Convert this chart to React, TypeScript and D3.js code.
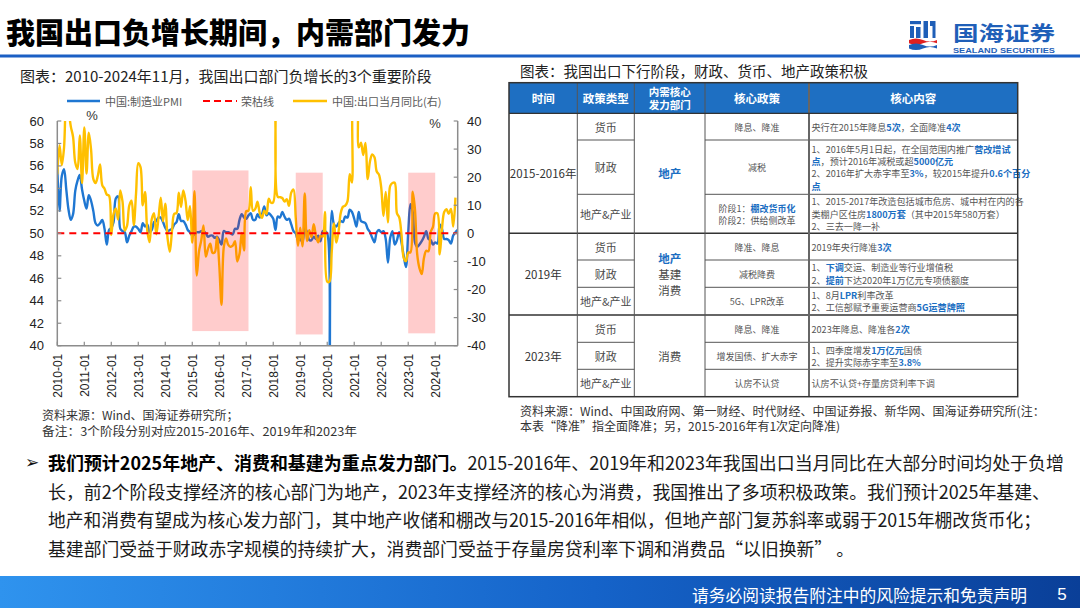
import React from 'react';
import * as d3 from 'd3';

// ---------------- DATA ----------------
const YEARS = ['2010','2011','2012','2013','2014','2015','2016','2017','2018','2019','2020','2021','2022','2023','2024'];
const MONTH_NUMS = ['01','02','03','04','05','06','07','08','09','10','11','12'];
const months = YEARS.flatMap(y => MONTH_NUMS.map(m => `${y}-${m}`)).slice(0, 179); // 2010-01 .. 2024-11
const xTickLabels = YEARS.map(y => `${y}-01`);
const leftTicks = [40, 42, 44, 46, 48, 50, 52, 54, 56, 58, 60];
const rightTicks = [-40, -30, -20, -10, 0, 10, 20, 30, 40];

// 中国:制造业PMI (2010-01 .. 2024-11)
const pmi = [
  55.8, 52.0, 55.1, 55.7, 53.9, 52.1, 51.2, 51.7, 53.8, 54.7, 55.2, 53.9,
  52.9, 52.2, 53.4, 52.9, 52.0, 50.9, 50.7, 50.9, 51.2, 50.4, 49.0, 50.3,
  50.5, 51.0, 53.1, 53.3, 50.4, 50.2, 50.1, 49.2, 49.8, 50.2, 50.6, 50.6,
  50.4, 50.1, 50.9, 50.6, 50.8, 50.1, 50.3, 51.0, 51.1, 51.4, 51.4, 51.0,
  50.5, 50.2, 50.3, 50.4, 50.8, 51.0, 51.7, 51.1, 51.1, 50.8, 50.3, 50.1,
  49.8, 49.9, 50.1, 50.1, 50.2, 50.2, 50.0, 49.7, 49.8, 49.8, 49.6, 49.7,
  49.4, 49.0, 50.2, 50.1, 50.1, 50.0, 49.9, 50.4, 50.4, 51.2, 51.7, 51.4,
  51.3, 51.6, 51.8, 51.2, 51.2, 51.7, 51.4, 51.7, 52.4, 51.6, 51.8, 51.6,
  51.3, 50.3, 51.5, 51.4, 51.9, 51.5, 51.2, 51.3, 50.8, 50.2, 50.0, 49.4,
  49.5, 49.2, 50.5, 50.1, 49.4, 49.4, 49.7, 49.5, 49.8, 49.3, 50.2, 50.2,
  50.0, 35.7, 52.0, 50.8, 50.6, 50.9, 51.1, 51.0, 51.5, 51.4, 52.1, 51.9,
  51.3, 50.6, 51.9, 51.1, 51.0, 50.9, 50.4, 50.1, 49.6, 49.2, 50.1, 50.3,
  50.1, 50.2, 49.5, 47.4, 49.6, 50.2, 49.0, 49.4, 50.1, 49.2, 48.0, 47.0,
  50.1, 52.6, 51.9, 49.2, 48.8, 49.0, 49.3, 49.7, 50.2, 49.5, 49.4, 49.0,
  49.2, 49.1, 50.8, 50.4, 49.5, 49.5, 49.4, 49.1, 49.8, 50.1, 50.3,
];

// 中国:出口当月同比 (2010-01 .. 2024-10)
const exportYoY = [
  21.0, 31.4, 24.3, 30.5, 48.5, 43.9, 38.1, 34.4, 25.1, 22.9, 34.9, 17.9,
  37.7, 21.3, 35.8, 29.9, 19.4, 17.9, 20.4, 24.5, 17.1, 15.9, 13.8, 13.4,
  -0.5, 6.9, 8.9, 4.9, 15.3, 11.3, 1.0, 2.7, 9.9, 11.6, 2.9, 14.1,
  25.0, 23.6, 10.0, 14.7, 1.0, -3.1, 5.1, 7.2, -0.3, 5.6, 12.7, 4.3,
  10.6, -1.6, -6.6, 0.9, 7.0, 7.2, 14.5, 9.4, 15.3, 11.6, 4.7, 9.7,
  -3.3, 15.0, -15.0, -6.4, -2.5, 2.8, -8.3, -5.5, -3.7, -6.9, -6.8, -1.4,
  -11.2, -25.4, -5.0, -1.8, -4.1, -4.8, -4.4, -2.8, -10.0, -7.3, 0.1, -6.1,
  7.9, 8.0, 16.4, 8.0, 8.7, 11.3, 7.2, 5.5, 8.1, 6.9, 12.3, 10.9,
  11.1, 44.5, 13.0, 12.9, 12.6, 11.3, 12.2, 9.8, 14.5, 15.6, 5.4, -4.4,
  2.0, -4.6, 14.2, -2.7, 1.1, -1.3, 3.3, -1.0, -3.2, -0.9, -1.1, 7.6,
  -17.2, -17.2, -6.6, 3.5, -3.3, 0.5, 7.2, 9.5, 9.9, 11.4, 21.1, 18.1,
  60.6, 60.6, 30.6, 32.3, 27.9, 32.2, 19.3, 25.6, 28.1, 27.1, 22.0, 20.9,
  16.3, 6.2, 14.7, 3.9, 16.9, 17.9, 18.0, 7.1, 5.7, -0.3, -8.7, -9.9,
  -6.8, -6.8, 14.8, 8.5, -7.5, -12.4, -14.5, -8.8, -6.2, -6.4, 0.5, 2.3,
  7.1, 7.1, -7.5, 1.5, 7.6, 8.6, 7.0, 8.7, 2.4, 12.7,
];

const boomBustLine = 50;

// 3个重要阶段 (shaded), vertical extent in left-axis units
const phaseStarts = ['2015-01', '2018-11', '2023-01'];
const phaseEnds = ['2017-02', '2019-11', '2024-01'];
const phaseTops = [55.6, 55.4, 55.4];
const phaseBottoms = [41.3, 41.0, 41.1];

const legendLabels = ['中国:制造业PMI', '荣枯线', '中国:出口当月同比(右)'];

// ---------------- TABLE DATA ----------------
const tableHeaders = [['时间'], ['政策类型'], ['内需核心', '发力部门'], ['核心政策'], ['核心内容']];
const tablePeriods = ['2015-2016年', '2019年', '2023年'];
const tableSectors = [['**地产**'], ['**地产**', '基建', '消费'], ['消费']];
const tableTypes = ['货币', '财政', '地产&产业'];
const tablePolicies = [
  [['降息、降准'], ['减税'], ['阶段1：**棚改货币化**', '阶段2：供给侧改革']],
  [['降准、降息'], ['减税降费'], ['5G、LPR改革']],
  [['降息、降准'], ['增发国债、扩大赤字'], ['认房不认贷']],
];
const tableContents = [
  [
    ['央行在2015年降息**5次**，全面降准**4次**'],
    ['1、2016年5月1日起，在全国范围内推广**营改增试**', '**点**，预计2016年减税或超**5000亿元**', '2、2016年扩大赤字率至**3%**，较2015年提升**0.6个百分**', '**点**'],
    ['1、2015-2017年改造包括城市危房、城中村在内的各', '类棚户区住房**1800万套**（其中2015年580万套）', '2、三去一降一补'],
  ],
  [
    ['2019年央行降准**3次**'],
    ['1、**下调**交运、制造业等行业增值税', '2、**提前**下达2020年1万亿元专项债额度'],
    ['1、8月**LPR**利率改革', '2、工信部赋予重要运营商**5G运营牌照**'],
  ],
  [
    ['2023年降息、降准各**2次**'],
    ['1、四季度增发**1万亿元**国债', '2、提升实际赤字率至**3.8%**'],
    ['认房不认贷+存量房贷利率下调'],
  ],
];

const paragraphLines = [
  ['**我们预计2025年地产、消费和基建为重点发力部门。**2015-2016年、2019年和2023年我国出口当月同比在大部分时间均处于负增'],
  ['长，前2个阶段支撑经济的核心部门为地产，2023年支撑经济的核心为消费，我国推出了多项积极政策。我们预计2025年基建、'],
  ['地产和消费有望成为核心发力部门，其中地产收储和棚改与2015-2016年相似，但地产部门复苏斜率或弱于2015年棚改货币化；'],
  ['基建部门受益于财政赤字规模的持续扩大，消费部门受益于存量房贷利率下调和消费品“以旧换新” 。'],
];

// ---------------- STYLE ----------------
const SANS = '"Noto Sans CJK SC", "Noto Sans", "Liberation Sans", sans-serif';
const ARIAL = '"Liberation Sans", Arial, sans-serif';
const BLUE = '#1f77d2';
const GOLD = '#ffc000';
const HL = '#1b6ec2';
const TXT = '#4a4a4a';

function Rich({ x, y, text, size, anchor = 'start', color = TXT, hl = HL, boldHl = true, textLength }: any) {
  const parts = text.split('**');
  return (
    <text x={x} y={y} fontSize={size} fontFamily={SANS} textAnchor={anchor} dominantBaseline="central"
      {...(textLength ? { textLength, lengthAdjust: 'spacingAndGlyphs' } : {})}>
      {parts.map((p: string, i: number) => (
        <tspan key={i} fill={i % 2 ? hl : color} fontWeight={i % 2 && boldHl ? 700 : 400}>{p}</tspan>
      ))}
    </text>
  );
}

function Chart() {
  const L = 57.3, R = 457.7, T = 121, B = 345.7;
  const x = d3.scalePoint<string>().domain(months).range([L, R]);
  const yL = d3.scaleLinear().domain([40, 60]).range([B, T]);
  const yR = d3.scaleLinear().domain([-40, 40]).range([B, T]);
  const curve = d3.curveCatmullRom.alpha(0.5);
  const pmiPath = d3.line<number>().x((_, i) => x(months[i])!).y(d => yL(d)).curve(curve)(pmi) || '';
  const expPath = d3.line<number>().x((_, i) => x(months[i])!).y(d => yR(d)).curve(curve)(exportYoY) || '';
  const axisColor = '#8c8c8c';
  return (
    <g>
      <defs>
        <clipPath id="plotClip"><rect x={L} y={T} width={R - L} height={B - T} /></clipPath>
      </defs>
      {/* legend */}
      <g fontFamily={SANS} fontSize={11} fill="#5a5a5a">
        <line x1={67} x2={100} y1={101} y2={101} stroke={BLUE} strokeWidth={2.5} />
        <text x={105} y={101} dominantBaseline="central">{legendLabels[0]}</text>
        <line x1={203} x2={237} y1={101} y2={101} stroke="#ff0000" strokeWidth={2} strokeDasharray="7,4" />
        <text x={241} y={101} dominantBaseline="central">{legendLabels[1]}</text>
        <line x1={293} x2={327} y1={101} y2={101} stroke={GOLD} strokeWidth={2.5} />
        <text x={332} y={101} dominantBaseline="central">{legendLabels[2]}</text>
      </g>
      <text x={92} y={115} fontFamily={ARIAL} fontSize={13} fill="#333" textAnchor="middle" dominantBaseline="central">%</text>
      <text x={435} y={123} fontFamily={ARIAL} fontSize={13} fill="#333" textAnchor="middle" dominantBaseline="central">%</text>

      {/* series */}
      <g clipPath="url(#plotClip)">
        <path d={pmiPath} fill="none" stroke={BLUE} strokeWidth={2.4} strokeLinejoin="round" />
        <path d={expPath} fill="none" stroke={GOLD} strokeWidth={2.4} strokeLinejoin="round" />
      </g>
      <line x1={L} x2={R} y1={yL(boomBustLine)} y2={yL(boomBustLine)} stroke="#ff0000" strokeWidth={2} strokeDasharray="7,5" />
      {phaseStarts.map((s, i) => (
        <rect key={s} x={x(s)} y={yL(phaseTops[i])} width={x(phaseEnds[i])! - x(s)!}
          height={yL(phaseBottoms[i]) - yL(phaseTops[i])} fill="#ff0000" fillOpacity={0.2} />
      ))}

      {/* axes */}
      <line x1={L} x2={L} y1={T} y2={B} stroke={axisColor} strokeWidth={1.5} />
      <line x1={R} x2={R} y1={T} y2={B} stroke={axisColor} strokeWidth={1.5} />
      <line x1={L} x2={R} y1={B} y2={B} stroke={axisColor} strokeWidth={1.5} />
      {leftTicks.map(v => (
        <g key={'l' + v}>
          <line x1={L} x2={L + 4} y1={yL(v)} y2={yL(v)} stroke={axisColor} strokeWidth={1.2} />
          <text x={44} y={yL(v)} fontFamily={ARIAL} fontSize={13} fill="#222" textAnchor="end" dominantBaseline="central">{v}</text>
        </g>
      ))}
      {rightTicks.map(v => (
        <g key={'r' + v}>
          <line x1={R - 4} x2={R} y1={yR(v)} y2={yR(v)} stroke={axisColor} strokeWidth={1.2} />
          <text x={467} y={yR(v)} fontFamily={ARIAL} fontSize={13} fill="#222" textAnchor="start" dominantBaseline="central">{v}</text>
        </g>
      ))}
      {xTickLabels.map(lab => (
        <g key={lab}>
          <line x1={x(lab)} x2={x(lab)} y1={B - 4} y2={B} stroke={axisColor} strokeWidth={1.2} />
          <text transform={`translate(${x(lab)! + 0.5},${B + 8}) rotate(-90)`} fontFamily={ARIAL} fontSize={12} fill="#222"
            textAnchor="end" dominantBaseline="central">{lab}</text>
        </g>
      ))}
    </g>
  );
}

function PolicyTable() {
  const colX = [509, 577.3, 634.3, 705, 809, 1017.7];
  const headTop = 82.7, headBot = 113.3;
  const rowH = [26.7, 54.3, 39, 26.7, 27.3, 27.7, 27.3, 27, 27.4];
  const rowY: number[] = [headBot];
  rowH.forEach(h => rowY.push(rowY[rowY.length - 1] + h));
  const bottom = rowY[rowY.length - 1];
  const lineC = '#555';
  const els: any[] = [];
  tablePeriods.forEach((p, g) => {
    const gTop = rowY[g * 3], gBot = rowY[g * 3 + 3];
    const gMid = (gTop + gBot) / 2;
    els.push(<text key={'t' + g} x={(colX[0] + colX[1]) / 2} y={gMid} fontFamily={SANS} fontSize={11.5} fill="#333" textAnchor="middle" dominantBaseline="central">{p}</text>);
    const sec = tableSectors[g];
    sec.forEach((s, k) => {
      els.push(<Rich key={'s' + g + k} x={(colX[2] + colX[3]) / 2} y={gMid + (k - (sec.length - 1) / 2) * 16} text={s} size={11.5} anchor="middle" />);
    });
    tableTypes.forEach((tp, r) => {
      const top = rowY[g * 3 + r], bot = rowY[g * 3 + r + 1];
      const mid = (top + bot) / 2;
      els.push(<text key={'ty' + g + r} x={(colX[1] + colX[2]) / 2} y={mid} fontFamily={SANS} fontSize={11} fill={TXT} textAnchor="middle" dominantBaseline="central">{tp}</text>);
      const pol = tablePolicies[g][r];
      pol.forEach((t, k) => {
        els.push(<Rich key={'p' + g + r + k} x={(colX[3] + colX[4]) / 2} y={mid + (k - (pol.length - 1) / 2) * 12.6} text={t} size={9} anchor="middle" color="#555" />);
      });
      const con = tableContents[g][r];
      con.forEach((t, k) => {
        els.push(<Rich key={'c' + g + r + k} x={colX[4] + 2.5} y={mid + (k - (con.length - 1) / 2) * 12.4} text={t} size={9.1} color="#555" />);
      });
      if (r < 2) {
        els.push(<line key={'hl' + g + r} x1={colX[1]} x2={colX[2]} y1={bot} y2={bot} stroke={lineC} strokeWidth={1} />);
        els.push(<line key={'hr' + g + r} x1={colX[3]} x2={colX[5]} y1={bot} y2={bot} stroke={lineC} strokeWidth={1} />);
      }
    });
    if (g < 2) els.push(<line key={'gl' + g} x1={colX[0]} x2={colX[5]} y1={gBot} y2={gBot} stroke="#333" strokeWidth={1.5} />);
  });
  return (
    <g>
      <rect x={colX[0]} y={headTop} width={colX[5] - colX[0]} height={headBot - headTop} fill="#1e6fc2" />
      {tableHeaders.map((h, i) => {
        const cx = (colX[i] + colX[i + 1]) / 2;
        const cy = (headTop + headBot) / 2;
        return h.map((t, k) => (
          <text key={'h' + i + k} x={cx} y={cy + (k - (h.length - 1) / 2) * 13} fontFamily={SANS} fontSize={h.length > 1 ? 10.5 : 11.5} fontWeight={700}
            fill="#fff" textAnchor="middle" dominantBaseline="central">{t}</text>
        ));
      })}
      {els}
      {colX.slice(1, 5).map((cx, i) => (
        <line key={'v' + i} x1={cx} x2={cx} y1={headTop} y2={bottom} stroke={i === 3 ? '#666' : lineC} strokeWidth={i === 3 ? 2 : 1} />
      ))}
      <line x1={colX[0]} x2={colX[5]} y1={headBot} y2={headBot} stroke="#333" strokeWidth={1.2} />
      <rect x={colX[0]} y={headTop} width={colX[5] - colX[0]} height={bottom - headTop} fill="none" stroke="#333" strokeWidth={1.5} />
    </g>
  );
}

function Logo() {
  const c = '#1f5fb8';
  return (
    <g>
      <rect x={910} y={21} width={11} height={3.2} fill={c} />
      <rect x={910} y={26} width={4} height={12} fill={c} />
      <rect x={916} y={27} width={4.5} height={11} fill={c} />
      <rect x={923.5} y={21} width={4.5} height={17} fill={c} />
      <path d="M930,21 h5.5 v17 h-3 v-12 h-2.5 z" fill={c} />
      <path d="M909,40 q7,-3 14,0 t14,0 v3.2 q-7,-3 -14,0 t-14,0 z" fill="#e02020" />
      <path d="M909,45 q7,-3 14,0 t14,0 v3.6 q-7,-3 -14,0 t-14,0 z" fill={c} />
      <text x={953} y={32.5} fontFamily={SANS} fontSize={20} fontWeight={700} fill={c} dominantBaseline="central" textLength={102} lengthAdjust="spacingAndGlyphs">国海证券</text>
      <text x={953} y={50} fontFamily={ARIAL} fontSize={8} fontWeight={700} fill={c} dominantBaseline="central" textLength={102} lengthAdjust="spacingAndGlyphs">SEALAND SECURITIES</text>
    </g>
  );
}

export default function App() {
  return (
    <svg width={1080} height={608} viewBox="0 0 1080 608" style={{ position: 'absolute', left: 0, top: 0, background: '#fff' }}>
      <defs>
        <linearGradient id="footG" x1="0" x2="1" y1="0" y2="0">
          <stop offset="0" stopColor="#2f93ee" />
          <stop offset="0.55" stopColor="#1563c9" />
          <stop offset="1" stopColor="#0a3f98" />
        </linearGradient>
      </defs>
      <rect x={0} y={0} width={1080} height={608} fill="#fff" />
      {/* Title */}
      <text x={6} y={31} fontFamily={SANS} fontSize={29} fontWeight={900} fill="#000" dominantBaseline="central">我国出口负增长期间，内需部门发力</text>
      <rect x={0} y={54.5} width={1080} height={3} fill="#1b5fc4" />
      <Logo />

      {/* Left chart */}
      <text x={20} y={75} fontFamily={SANS} fontSize={15} fill="#222" dominantBaseline="central">图表：2010-2024年11月，我国出口部门负增长的3个重要阶段</text>
      <Chart />
      <text x={42} y={414.5} fontFamily={SANS} fontSize={12} fill="#333" dominantBaseline="central">资料来源：Wind、国海证券研究所；</text>
      <text x={42} y={430} fontFamily={SANS} fontSize={12} fill="#333" dominantBaseline="central" textLength={315} lengthAdjust="spacingAndGlyphs">备注：3个阶段分别对应2015-2016年、2019年和2023年</text>

      {/* Right table */}
      <text x={520} y={70.5} fontFamily={SANS} fontSize={14.5} fill="#222" dominantBaseline="central">图表：我国出口下行阶段，财政、货币、地产政策积极</text>
      <PolicyTable />
      <text x={520} y={410} fontFamily={SANS} fontSize={12} fill="#333" dominantBaseline="central">资料来源：Wind、中国政府网、第一财经、时代财经、中国证券报、新华网、国海证券研究所(注：</text>
      <text x={520} y={425} fontFamily={SANS} fontSize={12} fill="#333" dominantBaseline="central">本表“降准”指全面降准；另，2015-2016年有1次定向降准)</text>

      {/* Paragraph */}
      <text x={25} y={462} fontFamily='"DejaVu Sans", sans-serif' fontSize={17} fontWeight={700} fill="#111" dominantBaseline="central">➢</text>
      {paragraphLines.map((ln, i) => (
        <Rich key={i} x={48} y={[462, 490.5, 519, 547.5][i]} text={ln[0]} size={18} color="#1a1a1a" hl="#000" boldHl={true}
          textLength={[1016, 1002, 993, 806][i]} />
      ))}

      {/* Footer */}
      <rect x={0} y={576} width={1080} height={32} fill="url(#footG)" />
      <text x={692} y={594} fontFamily={SANS} fontSize={17} fill="#fff" dominantBaseline="central" textLength={335} lengthAdjust="spacingAndGlyphs">请务必阅读报告附注中的风险提示和免责声明</text>
      <text x={1062} y={594} fontFamily={ARIAL} fontSize={17} fill="#fff" textAnchor="middle" dominantBaseline="central">5</text>
    </svg>
  );
}
